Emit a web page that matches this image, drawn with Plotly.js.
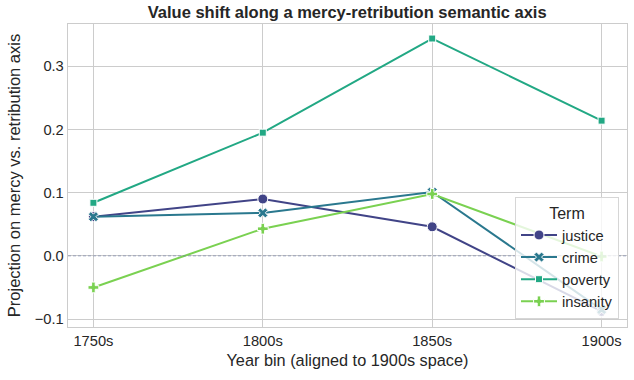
<!DOCTYPE html>
<html>
<head>
<meta charset="utf-8">
<script src="https://cdn.plot.ly/plotly-3.0.1.min.js"></script>
<style>
  html, body { margin: 0; padding: 0; background: #fff; }
  #chart { width: 634px; height: 380px; }
</style>
</head>
<body>
<div id="chart"></div>
<script>
// Mercy vs. retribution projection per term, by year bin
const bins     = ["1750s", "1800s", "1850s", "1900s"];
const terms    = ["justice", "crime", "poverty", "insanity"];
const justice  = [0.062, 0.090, 0.046, -0.088];
const crime    = [0.062, 0.068, 0.101, -0.085];
const poverty  = [0.084, 0.195, 0.344, 0.214];
const insanity = [-0.050, 0.043, 0.098, -0.001];
const yTicks   = [-0.1, 0.0, 0.1, 0.2, 0.3];
const yLabels  = ["−0.1", "0.0", "0.1", "0.2", "0.3"];

const COLORS  = ["#414487", "#2a788e", "#22a884", "#7ad151"];
const SYMBOLS = ["circle", "x", "square", "cross"];
const SIZES   = [10, 9, 7, 9];
const FONT    = "Liberation Sans, Arial, sans-serif";
const TEXT    = "#262626";
const GRID    = "#cccccc";

const series = [justice, crime, poverty, insanity];
const xIdx = bins.map((_, i) => i);

const traces = series.map((vals, k) => ({
  x: xIdx, y: vals, type: "scatter", mode: "lines+markers", name: terms[k],
  line: { color: COLORS[k], width: 2 },
  marker: { color: COLORS[k], symbol: SYMBOLS[k], size: SIZES[k],
            line: { color: "#ffffff", width: 1 } },
}));

const ax = {
  showgrid: true, gridcolor: GRID, gridwidth: 1,
  showline: true, linecolor: GRID, linewidth: 1.25, mirror: true,
  zeroline: false, ticks: "", tickfont: { size: 14.7, color: TEXT },
};

const layout = {
  width: 634, height: 380,
  paper_bgcolor: "#ffffff", plot_bgcolor: "#ffffff",
  font: { family: FONT, color: TEXT },
  margin: { l: 68, r: 7, t: 24, b: 53 },
  title: { text: "<b>Value shift along a mercy-retribution semantic axis</b>",
           font: { size: 16.5, color: TEXT }, x: 0.5476, xanchor: "center", y: 0.968, yanchor: "middle" },
  xaxis: { ...ax, range: [-0.15, 3.15], tickvals: xIdx, ticktext: bins,
           title: { text: "Year bin (aligned to 1900s space)", font: { size: 16.3, color: TEXT }, standoff: 6 } },
  yaxis: { ...ax, range: [-0.1126, 0.367], tickvals: yTicks, ticktext: yLabels,
           title: { text: "Projection on mercy vs. retribution axis", font: { size: 16.5, color: TEXT }, standoff: 10 } },
  shapes: [{
    type: "line", xref: "paper", x0: 0, x1: 1, yref: "y", y0: 0, y1: 0,
    line: { color: "rgba(100,115,160,0.55)", width: 1, dash: "3px,2px" },
  }],
  showlegend: true,
  legend: {
    x: 0.9857, xanchor: "right", y: 0.026, yanchor: "bottom",
    bgcolor: "rgba(255,255,255,0.8)", bordercolor: "#d6d6d6", borderwidth: 1,
    font: { size: 14.7, color: TEXT },
    title: { text: "Term", side: "top center", font: { size: 16, color: TEXT } },
    tracegroupgap: 0, itemwidth: 36,
  },
};

Plotly.newPlot("chart", traces, layout, { displayModeBar: false, staticPlot: true });
</script>
</body>
</html>
